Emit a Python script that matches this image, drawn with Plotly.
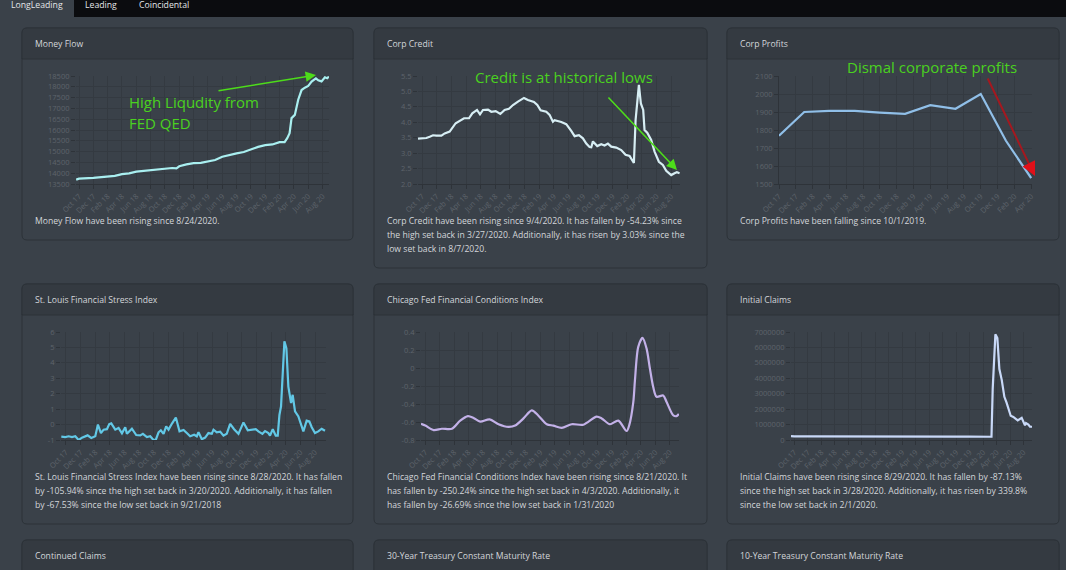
import plotly.graph_objects as go

W, H = 1066, 570
PAGE = "#3a4149"; CARD = "#3a4149"; HEAD = "#343a41"; EDGE = "#2c3238"
TICK = "#5e646b"; GRID = "#343a41"; AXIS = "#2e3339"; TEXT = "#d3d6da"; GREEN = "#4ad11f"
FONT = "Open Sans"

tick_months = list(range(0, 36, 2))
tick_labels = ["Oct 17","Dec 17","Feb 18","Apr 18","Jun 18","Aug 18","Oct 18","Dec 18","Feb 19","Apr 19",
               "Jun 19","Aug 19","Oct 19","Dec 19","Feb 20","Apr 20","Jun 20","Aug 20"]

money_m = [-0.4,0,2,3,4,5,6,7,8,9,10,11,12,13,13.6,14,15,16,17,18,19,20,21,22,23,24,25,26,27,28,28.7,29.07,29.4,
           29.67,30.13,30.6,31.07,31.53,32,32.47,33.07,33.4,33.86,34.33,34.65,34.9]
money_v = [13700,13750,13780,13820,13840,13880,13960,13990,14070,14110,14150,14160,14220,14240,14220,14320,14410,
           14470,14480,14550,14610,14760,14850,14920,14980,15100,15220,15300,15330,15440,15440,15620,15850,
           16550,16700,17400,17850,17960,18040,18240,18390,18300,18250,18440,18400,18470]

credit_m = [-0.55,0,0.59,1.05,1.5,1.95,2.64,3.09,3.77,4.59,5.14,5.73,6.41,6.86,7.5,7.91,8.32,9,9.45,10.05,10.68,
            11.27,11.86,12.41,13.09,13.91,14.45,15.27,15.73,16.18,16.95,17.41,17.86,18.09,19,19.68,20.36,20.82,
            21.41,21.95,22.41,22.86,23.09,23.32,23.91,24.45,24.91,25.36,25.82,26.5,27.18,27.77,28.32,28.91,29.14,
            29.59,29.86,30.18,30.36,30.73,31.27,31.73,32.32,32.86,33.32,34,34.45,34.77,35.14]
credit_v = [3.47,3.47,3.49,3.53,3.58,3.57,3.57,3.64,3.70,3.97,4.04,4.13,4.13,4.29,4.40,4.26,4.40,4.41,4.34,4.36,4.27,
            4.40,4.44,4.56,4.67,4.79,4.72,4.66,4.56,4.39,4.34,4.24,4.02,4.07,4.01,3.94,3.72,3.55,3.58,3.48,3.31,3.20,
            3.19,3.38,3.23,3.29,3.25,3.31,3.21,3.18,3.10,2.95,2.91,2.68,4.07,5.21,4.61,4.40,3.75,3.66,3.43,3.05,2.72,
            2.62,2.43,2.29,2.35,2.38,2.35]

profit_m = [0,3,6,9,12,15,18,21,24,27,30]
profit_v = [1768,1900,1906,1906,1897,1890,1938,1918,2000,1740,1533]

stress_m = [-0.64,-0.09,0.36,0.82,1.27,1.73,2.18,2.95,3.45,4,4.36,4.77,5.14,5.59,5.91,6.18,6.73,7.18,7.64,8.09,8.32,9,
            9.59,10.14,10.5,11.05,11.5,11.95,12.27,12.64,12.95,13.32,13.68,14,14.45,15,15.5,16.05,16.5,16.95,17.5,
            17.86,18.09,18.55,19,19.45,19.91,20.14,20.59,21.05,21.5,21.95,22.41,22.95,23.55,24.23,24.82,25.36,25.91,
            26.27,26.82,27.18,27.64,27.86,28.23,28.64,28.91,29.14,29.36,29.82,30.09,30.36,30.73,30.95,31.27,31.73,
            32.41,32.86,33.23,33.55,34,34.45,34.91,35.36]
stress_v = [-0.78,-0.81,-0.76,-0.81,-0.76,-1.0,-0.85,-0.70,-0.87,-0.76,0,-0.55,-0.33,-0.30,0.03,0.08,-0.33,-0.22,-0.57,
            -0.17,-0.60,-0.27,-0.68,-0.70,-0.60,-0.81,-0.76,-1.0,-0.98,-0.50,-0.37,-0.60,-0.12,-0.33,0.05,0.46,-0.44,
            -0.35,-0.55,-0.76,-0.66,-0.76,-0.50,-0.95,-0.84,-0.55,-0.60,-0.33,-0.50,-0.46,-0.72,-0.60,0.05,-0.30,-0.60,
            0.14,-0.37,-0.33,-0.30,-0.44,-0.60,-0.42,-0.55,-0.72,-0.30,-0.72,-0.72,0.62,1.18,5.40,4.95,2.46,1.40,1.93,
            0.85,0.53,-0.44,0.25,0.20,-0.17,-0.55,-0.44,-0.27,-0.40]

chicago_m = [-0.6,0,1.16,2.31,3.7,4.86,5.93,6.71,7.64,8.94,10.19,11.57,12.5,13.66,14.81,15.74,16.9,17.82,18.98,20.37,
             21.99,23.84,24.54,25.69,26.85,28.01,28.38,28.94,29.17,29.63,30.23,30.79,31.25,31.71,32.18,33.1,33.56,
             34.49,34.95,35.28]
chicago_v = [-0.62,-0.64,-0.69,-0.675,-0.675,-0.585,-0.535,-0.555,-0.595,-0.57,-0.625,-0.655,-0.64,-0.56,-0.47,-0.53,
             -0.625,-0.64,-0.665,-0.625,-0.63,-0.54,-0.56,-0.625,-0.585,-0.70,-0.635,-0.38,-0.135,0.235,0.335,0.215,
             -0.005,-0.21,-0.32,-0.305,-0.375,-0.525,-0.535,-0.51]

claims_m = [-0.49,0,2,4,6,8,10,12,14,16,18,20,22,24,26,28,29.25,29.43,29.83,30.12,30.42,30.77,31.16,31.5,32.1,32.49,
            33.14,33.73,34.22,34.37,34.72,34.96,35.26]
claims_v = [255000,240000,230000,225000,220000,215000,215000,220000,225000,215000,215000,210000,210000,215000,220000,
            205000,210000,3300000,6850000,6600000,4600000,3900000,2800000,2400000,1570000,1500000,1270000,1440000,
            950000,1100000,1000000,860000,860000]

money_ticks = [13500,14000,14500,15000,15500,16000,16500,17000,17500,18000,18500]
credit_ticks = [2.0,2.5,3.0,3.5,4.0,4.5,5.0,5.5]
profit_ticks = [1500,1600,1700,1800,1900,2000,2100]
stress_ticks = [-1,0,1,2,3,4,5,6]
chicago_ticks = [-0.8,-0.6,-0.4,-0.2,0,0.2,0.4]
claims_ticks = [0,1000000,2000000,3000000,4000000,5000000,6000000,7000000]

money_labels = [str(v) for v in money_ticks]
credit_labels = [f"{v:.1f}" for v in credit_ticks]
profit_labels = [str(v) for v in profit_ticks]
stress_labels = [str(v) for v in stress_ticks]
chicago_labels = ["-0.8","-0.6","-0.4","-0.2","0","0.2","0.4"]
claims_labels = [str(v) for v in claims_ticks]

panels = [
    dict(m=money_m, v=money_v, t=money_ticks, l=money_labels, c="#a9eff0", x=(76,329), y=(76,184), xmin=-0.42, xmax=34.9, months=36),
    dict(m=credit_m, v=credit_v, t=credit_ticks, l=credit_labels, c="#d7eef4", x=(418,680), y=(76,184), xmin=-0.55, xmax=35.2, months=36),
    dict(m=profit_m, v=profit_v, t=profit_ticks, l=profit_labels, c="#90bfe8", x=(779,1032), y=(76,184), xmin=0, xmax=30.1, months=31),
    dict(m=stress_m, v=stress_v, t=stress_ticks, l=stress_labels, c="#62c8e6", x=(61,326), y=(332,440), xmin=-0.68, xmax=35.5, months=36),
    dict(m=chicago_m, v=chicago_v, t=chicago_ticks, l=chicago_labels, c="#c3b1e8", x=(421,679), y=(332,440), xmin=-0.6, xmax=35.3, months=36, spline=True),
    dict(m=claims_m, v=claims_v, t=claims_ticks, l=claims_labels, c="#c9d9f8", x=(791,1032), y=(332,440), xmin=-0.49, xmax=35.26, months=36),
]

tabs = [("LongLeading", 11), ("Leading", 85), ("Coincidental", 139)]
cards = [
    (22,353,28,240,"Money Flow",["Money Flow have been rising since 8/24/2020."]),
    (374,707,28,268,"Corp Credit",["Corp Credit have been rising since 9/4/2020. It has fallen by -54.23% since",
        "the high set back in 3/27/2020. Additionally, it has risen by 3.03% since the","low set back in 8/7/2020."]),
    (727,1059,28,240,"Corp Profits",["Corp Profits have been falling since 10/1/2019."]),
    (22,353,284,524,"St. Louis Financial Stress Index",["St. Louis Financial Stress Index have been rising since 8/28/2020. It has fallen",
        "by -105.94% since the high set back in 3/20/2020. Additionally, it has fallen","by -67.53% since the low set back in 9/21/2018"]),
    (374,707,284,524,"Chicago Fed Financial Conditions Index",["Chicago Fed Financial Conditions Index have been rising since 8/21/2020. It",
        "has fallen by -250.24% since the high set back in 4/3/2020. Additionally, it","has fallen by -26.69% since the low set back in 1/31/2020"]),
    (727,1059,284,524,"Initial Claims",["Initial Claims have been rising since 8/29/2020. It has fallen by -87.13%",
        "since the high set back in 3/28/2020. Additionally, it has risen by 339.8%","since the low set back in 2/1/2020."]),
    (22,353,540,600,"Continued Claims",[]),
    (374,707,540,600,"30-Year Treasury Constant Maturity Rate",[]),
    (727,1059,540,600,"10-Year Treasury Constant Maturity Rate",[]),
]

px = lambda x: x / W
py = lambda y: 1 - y / H

def rounded(x0, x1, y0, y1, rt=5, rb=5):
    X0, X1, Y0, Y1 = px(x0), px(x1), py(y0), py(y1)
    dx, dy = rt / W, rt / H
    ex, ey = rb / W, rb / H
    return (f"M {X0+dx} {Y0} L {X1-dx} {Y0} Q {X1} {Y0} {X1} {Y0-dy} L {X1} {Y1+ey} Q {X1} {Y1} {X1-ex} {Y1} "
            f"L {X0+ex} {Y1} Q {X0} {Y1} {X0} {Y1+ey} L {X0} {Y0-dy} Q {X0} {Y0} {X0+dx} {Y0} Z")

shapes, ann = [], []

def label(x, y, s, size=8.65, color=TEXT, anchor="left"):
    ann.append(dict(xref="paper", yref="paper", x=px(x), y=py(y), text=s, showarrow=False, xanchor=anchor,
                    yanchor="middle", align="left", borderpad=0, borderwidth=0,
                    font=dict(family=FONT, size=size, color=color)))

def arrow(x0, y0, x1, y1, color, width=1.6, head=2, size=1.3):
    ann.append(dict(xref="paper", yref="paper", x=px(x1), y=py(y1), ax=x0 - x1, ay=y0 - y1, axref="pixel", ayref="pixel",
                    text="", showarrow=True, arrowcolor=color, arrowwidth=width, arrowhead=head, arrowsize=size))

# navigation bar
shapes.append(dict(type="rect", xref="paper", yref="paper", x0=0, x1=1, y0=py(17), y1=1, fillcolor="#0b0c0f", line_width=0, layer="below"))
shapes.append(dict(type="rect", xref="paper", yref="paper", x0=0, x1=px(74), y0=py(17), y1=1, fillcolor=PAGE, line_width=0, layer="below"))
for name, x in tabs:
    label(x, 5, name, 8.7, "#e3e5e8")

# cards
for x0, x1, y0, y1, title, body in cards:
    shapes.append(dict(type="path", path=rounded(x0, x1, y0, y1), xref="paper", yref="paper", fillcolor=CARD,
                       line=dict(color=EDGE, width=1), layer="below"))
    shapes.append(dict(type="path", path=rounded(x0, x1, y0, y0 + 31, 5, 0.01), xref="paper", yref="paper", fillcolor=HEAD,
                       line=dict(color=EDGE, width=1), layer="below"))
    label(x0 + 13, y0 + 15.5, title)
    start = 220.5 if y0 < 100 else 476.5
    for i, line in enumerate(body):
        label(x0 + 13, start + i * 14, line)

fig = go.Figure()
layout = {}
for i, p in enumerate(panels, 1):
    suf = "" if i == 1 else str(i)
    fig.add_trace(go.Scatter(x=p["m"], y=p["v"], mode="lines", xaxis=f"x{suf}", yaxis=f"y{suf}", cliponaxis=False,
                             hoverinfo="skip", showlegend=False,
                             line=dict(color=p["c"], width=2.2, shape="spline" if p.get("spline") else "linear", smoothing=0.8)))
    xt = [m for m in tick_months if m < p["months"]]
    layout[f"xaxis{suf}"] = dict(domain=[px(p["x"][0]), px(p["x"][1])], anchor=f"y{suf}", range=[p["xmin"], p["xmax"]],
        tickmode="array", tickvals=xt, ticktext=tick_labels[:len(xt)], tickangle=-45, ticks="outside", ticklen=4,
        tickcolor=AXIS, gridcolor=GRID, gridwidth=1, linecolor=AXIS, showline=True, zeroline=False,
        tickfont=dict(family=FONT, size=7.5, color=TICK))
    layout[f"yaxis{suf}"] = dict(domain=[py(p["y"][1]), py(p["y"][0])], anchor=f"x{suf}", range=[p["t"][0], p["t"][-1]],
        tickmode="array", tickvals=p["t"], ticktext=p["l"], ticks="outside", ticklen=4, tickcolor=AXIS,
        gridcolor=GRID, gridwidth=1, linecolor=AXIS, showline=p["xmin"] == 0, zeroline=False,
        tickfont=dict(family=FONT, size=7.5, color=TICK))

# hand-drawn notes
label(129, 102, "High Liqudity from", 15, GREEN)
label(129, 123, "FED QED", 15, GREEN)
label(475, 77, "Credit is at historical lows", 15, GREEN)
label(847, 67, "Dismal corporate profits", 15, GREEN)
arrow(217, 91, 316, 75, "#4ddc1a")
arrow(607, 96, 677, 170, "#4ddc1a")
arrow(987, 77, 1032, 170, "#a5181f", 2, 0)
arrow(1031, 168, 1035, 176, "#e0101a", 2, 2, 1.4)

fig.update_layout(width=W, height=H, margin=dict(l=0, r=0, t=0, b=0, autoexpand=False), paper_bgcolor=PAGE, plot_bgcolor="rgba(0,0,0,0)",
                  shapes=shapes, annotations=ann, showlegend=False, **layout)
fig.write_html("out.html", config=dict(displayModeBar=False),
               post_script="document.body.style.margin='0';document.body.style.background='#3a4149';document.body.style.overflow='hidden';")
